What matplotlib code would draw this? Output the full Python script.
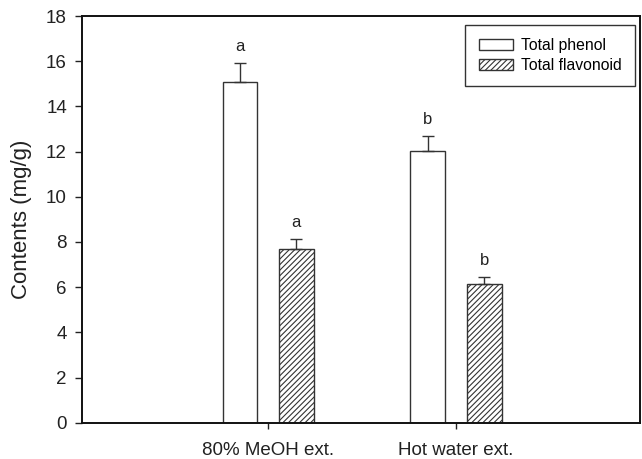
import matplotlib
matplotlib.use("Agg")
import matplotlib.pyplot as plt
import numpy as np

plt.rcParams['font.family'] = ['Liberation Sans', 'DejaVu Sans']
plt.rcParams['hatch.linewidth'] = 0.8

categories = ["80% MeOH ext.", "Hot water ext."]
phenol = [15.07, 12.04]
phenol_err = [0.84, 0.66]
flavonoid = [7.71, 6.16]
flavonoid_err = [0.44, 0.27]
phenol_letters = ["a", "b"]
flavonoid_letters = ["a", "b"]

fig = plt.figure(figsize=(6.42, 4.59), dpi=100)
ax = fig.add_axes([0.128, 0.079, 0.869, 0.886])

x = np.arange(len(categories))
width = 0.185
offset = 0.15
edge = '#333333'

ax.bar(x - offset, phenol, width, color='white', edgecolor=edge, linewidth=1.0,
       label='Total phenol', zorder=2)
ax.bar(x + offset, flavonoid, width, color='white', edgecolor=edge, linewidth=1.0,
       hatch='//////', label='Total flavonoid', zorder=2)

ax.errorbar(x - offset, phenol, yerr=[np.zeros(len(phenol)), phenol_err], fmt='none',
            ecolor=edge, elinewidth=1.0, capsize=4, capthick=1.0, zorder=3)
ax.errorbar(x + offset, flavonoid, yerr=[np.zeros(len(flavonoid)), flavonoid_err], fmt='none',
            ecolor=edge, elinewidth=1.0, capsize=4, capthick=1.0, zorder=3)

for xi, v, e, t in zip(x - offset, phenol, phenol_err, phenol_letters):
    ax.text(xi, v + e + 0.4, t, ha='center', va='bottom', fontsize=12, color='#222222')
for xi, v, e, t in zip(x + offset, flavonoid, flavonoid_err, flavonoid_letters):
    ax.text(xi, v + e + 0.4, t, ha='center', va='bottom', fontsize=12, color='#222222')

ax.set_xlim(-0.99, 1.98)
ax.set_ylim(0, 18)
ax.set_yticks(np.arange(0, 19, 2))
ax.set_xticks(x)
ax.set_xticklabels(categories, fontsize=13.5)
ax.tick_params(axis='y', direction='out', length=5, width=1, labelsize=13.5,
               colors='#222222', pad=6)
ax.tick_params(axis='x', direction='out', length=4, width=1, pad=10, colors='#222222')
ax.set_ylabel("Contents (mg/g)", fontsize=16, color='#222222', labelpad=10)

for s in ax.spines.values():
    s.set_linewidth(1.4)
    s.set_color('#111111')

leg = ax.legend(loc='upper right', bbox_to_anchor=(0.991, 0.978), fontsize=11.3,
                frameon=True, fancybox=False, edgecolor='#333333', framealpha=1,
                handlelength=2.2, handleheight=0.7, borderpad=0.85, labelspacing=0.3,
                handletextpad=0.5, borderaxespad=0.0)
leg.get_frame().set_linewidth(1.0)

fig.savefig("out.png", dpi=100)
